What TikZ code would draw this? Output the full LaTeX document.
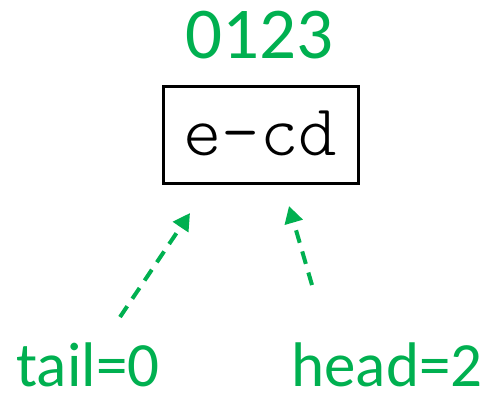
\documentclass[tikz,border=0pt]{standalone}
\usepackage{fontspec}
\setmainfont{Carlito}
\newfontfamily\lightmono{lmmonolt10-regular.otf}
\usetikzlibrary{arrows.meta}
\definecolor{accent}{HTML}{00B050}
\tikzset{
  label text/.style={text=accent, font=\fontsize{63}{63}\selectfont, inner sep=0pt,
    anchor=base, text depth=0pt},
  pointer/.style={draw=accent, line width=4pt, dash pattern=on 13pt off 9pt,
    -{Triangle[length=17pt, width=18pt]}},
}
\begin{document}
\begin{tikzpicture}[x=1pt, y=-1pt]
  \useasboundingbox (0,0) rectangle (486,392);
  % string cell
  \node (cell) [draw=black, line width=3pt, minimum width=195pt, minimum height=97pt, inner sep=0pt]
    at (260.5,135) {};
  \node (str) [font=\lightmono\fontsize{73}{73}\selectfont, inner sep=0pt, anchor=base] at (260,155) {e-cd};
  % index row
  \node (idx) [label text, font=\fontsize{73}{73}\selectfont] at (259,58) {0123};
  % pointers
  \node (tail) [label text] at (88,386) {tail=0};
  \node (head) [label text] at (387,386) {head=2};
  \coordinate (tailstart) at (120,317);
  \coordinate (tailend) at (190,213);
  \coordinate (headstart) at (312,285);
  \coordinate (headend) at (289,206);
  \draw[pointer] (tailstart) -- (tailend);
  \draw[pointer] (headstart) -- (headend);
\end{tikzpicture}
\end{document}
